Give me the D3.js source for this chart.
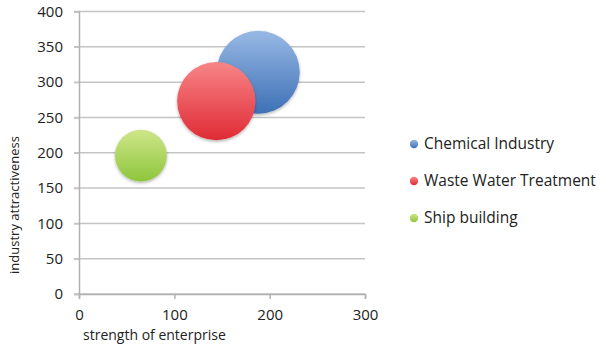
<!DOCTYPE html>
<html>
<head>
<meta charset="utf-8">
<script src="https://cdn.jsdelivr.net/npm/d3@7"></script>
<style>
  body { margin: 0; background: #fff; }
  text { font-family: "Open Sans", sans-serif; fill: #222; }
</style>
</head>
<body>
<div id="chart"></div>
<script>
// data
var names = ["Chemical Industry", "Waste Water Treatment", "Ship building"];
var strength = [188, 144, 65];
var attractiveness = [314, 273, 196];
var bubbleSize = [100, 89, 39];
var xTicks = [0, 100, 200, 300];
var yTicks = [0, 50, 100, 150, 200, 250, 300, 350, 400];

var colors = [
    {top: "#98b9e4", bottom: "#3d70b6"},
    {top: "#f88587", bottom: "#df2b35"},
    {top: "#cfe68a", bottom: "#8ec63c"}
];

var width = 600, height = 348;
var svg = d3.select("#chart").append("svg")
    .attr("width", width)
    .attr("height", height);

var x = d3.scaleLinear().domain([0, 300]).range([79, 365]);
var y = d3.scaleLinear().domain([0, 400]).range([294, 11.5]);
var r = d3.scaleSqrt().domain([0, 100]).range([0, 41.5]);

var defs = svg.append("defs");
colors.forEach(function(c, i) {
    var g = defs.append("linearGradient")
        .attr("id", "grad" + i)
        .attr("x1", 0).attr("y1", 0).attr("x2", 0).attr("y2", 1);
    g.append("stop").attr("offset", "0%").attr("stop-color", c.top);
    g.append("stop").attr("offset", "100%").attr("stop-color", c.bottom);
});
var shadow = defs.append("filter").attr("id", "shadow")
    .attr("x", "-20%").attr("y", "-20%").attr("width", "140%").attr("height", "150%");
shadow.append("feDropShadow")
    .attr("dx", 0).attr("dy", 1.5).attr("stdDeviation", 1.5)
    .attr("flood-color", "#000").attr("flood-opacity", 0.3);

// gridlines
svg.selectAll("line.grid")
    .data(yTicks)
    .enter().append("line")
    .attr("class", "grid")
    .attr("x1", x(0) - 5)
    .attr("x2", x(300))
    .attr("y1", function(d) { return y(d); })
    .attr("y2", function(d) { return y(d); })
    .attr("stroke", "#c4c4c4")
    .attr("stroke-width", 1.5);

// y axis
var yAxis = svg.append("g")
    .attr("transform", "translate(" + x(0) + ",0)")
    .call(d3.axisLeft(y).tickValues(yTicks).tickSize(5).tickPadding(11));
yAxis.select(".domain").attr("stroke", "#b0b0b0").attr("stroke-width", 1.5);
yAxis.selectAll(".tick line").attr("stroke", "#c4c4c4").attr("stroke-width", 1.5);
yAxis.selectAll("text")
    .style("font-family", "'Open Sans', sans-serif")
    .style("font-size", "15px")
    .attr("fill", "#1a1a1a");

// x axis
var xAxis = svg.append("g")
    .attr("transform", "translate(0," + y(0) + ")")
    .call(d3.axisBottom(x).tickValues(xTicks).tickSize(5).tickPadding(10));
xAxis.select(".domain").attr("stroke", "#b0b0b0").attr("stroke-width", 1.5);
xAxis.selectAll(".tick line").attr("stroke", "#b0b0b0").attr("stroke-width", 1.5);
xAxis.selectAll("text")
    .style("font-family", "'Open Sans', sans-serif")
    .style("font-size", "15px")
    .attr("fill", "#1a1a1a");

// axis titles
svg.append("text")
    .attr("x", 83)
    .attr("y", 340)
    .style("font-size", "14px")
    .text("strength of enterprise");

svg.append("text")
    .attr("transform", "translate(19,205) rotate(-90)")
    .attr("text-anchor", "middle")
    .style("font-size", "13px")
    .text("industry attractiveness");

// bubbles
svg.selectAll("circle.bubble")
    .data(names)
    .enter().append("circle")
    .attr("class", "bubble")
    .attr("cx", function(d, i) { return x(strength[i]); })
    .attr("cy", function(d, i) { return y(attractiveness[i]); })
    .attr("r", function(d, i) { return r(bubbleSize[i]); })
    .attr("fill", function(d, i) { return "url(#grad" + i + ")"; })
    .attr("filter", "url(#shadow)");

// legend
var legend = svg.selectAll("g.legend")
    .data(names)
    .enter().append("g")
    .attr("class", "legend")
    .attr("transform", function(d, i) { return "translate(414," + (144 + i * 37) + ")"; });
legend.append("circle")
    .attr("r", 4.2)
    .attr("fill", function(d, i) { return "url(#grad" + i + ")"; });
legend.append("text")
    .attr("x", 10)
    .attr("dy", "0.35em")
    .style("font-size", "15.5px")
    .text(function(d) { return d; });
</script>
</body>
</html>
